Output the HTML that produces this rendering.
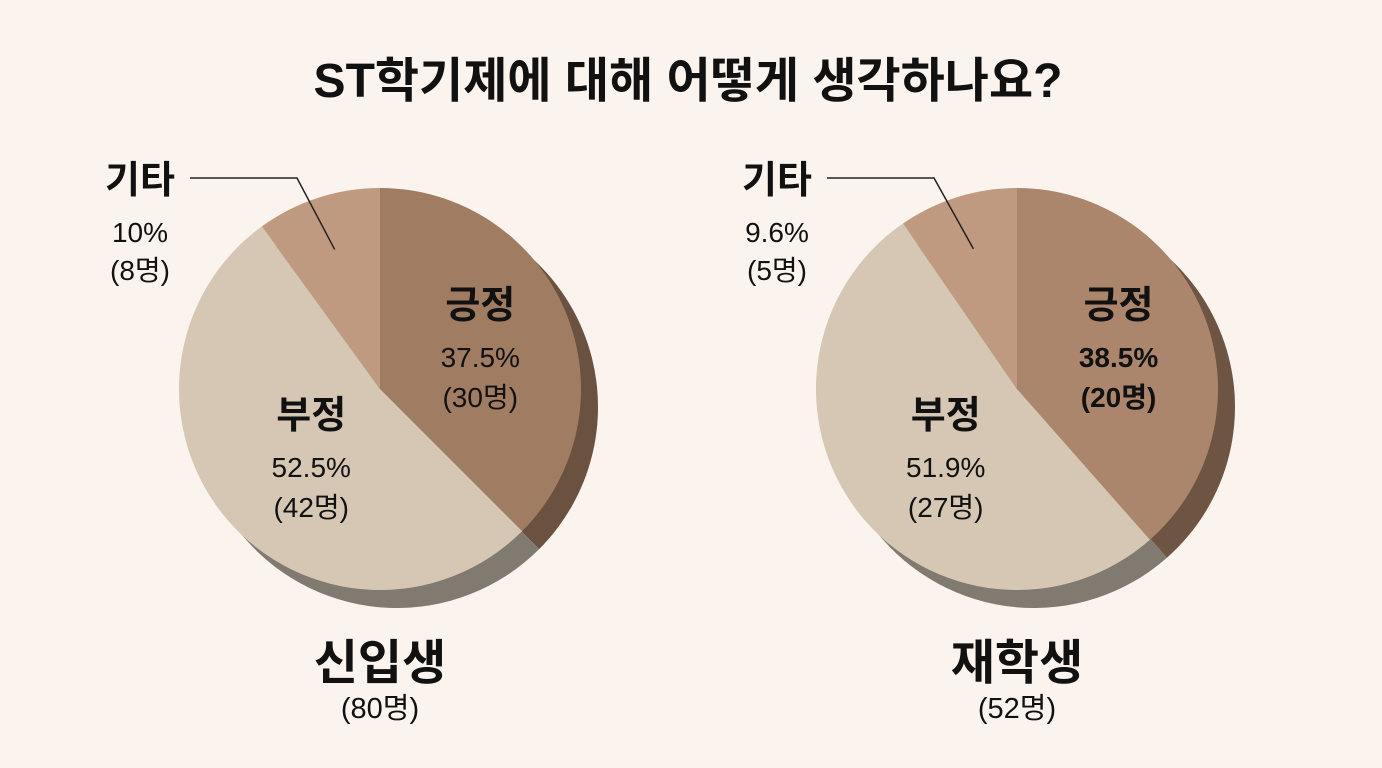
<!DOCTYPE html>
<html><head><meta charset="utf-8"><style>
html,body{margin:0;padding:0;background:#fbf3ee;}
svg{display:block;font-family:"Liberation Sans","Noto Sans CJK KR",sans-serif;}
</style></head><body>
<svg id="chart" width="1382" height="768" viewBox="0 0 1382 768">
<rect width="1382" height="768" fill="#fbf3ee"/>
<text x="688" y="97" text-anchor="middle" font-size="48" font-weight="bold" fill="#111">ST학기제에 대해 어떻게 생각하나요?</text>
<g id="pies"></g>
</svg>
<script>
const categories = ["긍정","부정","기타"];
const groupNames = ["신입생","재학생"];
const groupTotals = ["(80명)","(52명)"];
const freshmanPct = [37.5, 52.5, 10];
const freshmanCount = ["(30명)","(42명)","(8명)"];
const seniorPct = [38.5, 51.9, 9.6];
const seniorCount = ["(20명)","(27명)","(5명)"];

const NS="http://www.w3.org/2000/svg";
const g=document.getElementById('pies');
function el(tag,attrs,parent){const e=document.createElementNS(NS,tag);for(const k in attrs)e.setAttribute(k,attrs[k]);(parent||g).appendChild(e);return e;}
function angleOf(p){return p/100*2*Math.PI;}
function pt(cx,cy,r,a){return [cx+r*Math.sin(a),cy-r*Math.cos(a)];}
function arcPath(cx,cy,r,a0,a1){const p0=pt(cx,cy,r,a0),p1=pt(cx,cy,r,a1);const large=(a1-a0)>Math.PI?1:0;return `M${cx},${cy}L${p0[0]},${p0[1]}A${r},${r} 0 ${large} 1 ${p1[0]},${p1[1]}Z`;}
function txt(x,y,s,size,weight,name){const t=el('text',{x:x,y:y,'text-anchor':'middle','font-size':size,'font-weight':weight,fill:'#111'});t.textContent=s;return t;}

function drawPie(cx,cy,r,pcts,counts,colors,shadowColors,gi){
  const R=r;
  let a=0;
  pcts.forEach((p,i)=>{const a1=a+angleOf(p);
    const s=el('path',{d:arcPath(cx+17,cy+18,R,a,a1),fill:shadowColors[i]});
    
    
    a=a1;});
  a=0;
  pcts.forEach((p,i)=>{const a1=a+angleOf(p);
    const s=el('path',{d:arcPath(cx,cy,R,a,a1),fill:colors[i]});
    
    
    a=a1;});
  let a0=0;const mids=[];
  pcts.forEach(p=>{const a1=a0+angleOf(p);mids.push((a0+a1)/2);a0=a1;});
  let m=pt(cx,cy,R*0.54,mids[0]);
  txt(m[0],318,categories[0],38,'bold','label-positive-'+gi);
  txt(m[0],367,pcts[0]+'%',28,gi===1?'bold':'normal','value-positive-'+gi);
  txt(m[0],407,counts[0],28,gi===1?'bold':'normal','count-positive-'+gi);
  m=pt(cx,cy,R*0.45,mids[1]);
  txt(m[0],428,categories[1],38,'bold','label-negative-'+gi);
  txt(m[0],477,pcts[1]+'%',28,'normal','value-negative-'+gi);
  txt(m[0],517,counts[1],28,'normal','count-negative-'+gi);
  const lx=cx-240;
  txt(lx,193,categories[2],38,'bold','label-other-'+gi);
  txt(lx,242,pcts[2]+'%',28,'normal','value-other-'+gi);
  txt(lx,280,counts[2],28,'normal','count-other-'+gi);
  const e=pt(cx,cy,R*0.73,mids[2]);
  const line=el('polyline',{points:`${cx-190},178 ${cx-83},178 ${e[0]},${e[1]}`,fill:'none',stroke:'#222','stroke-width':1.5});
  
  
  txt(cx,679,groupNames[gi],48,'bold','group-name-'+gi);
  txt(cx,718,groupTotals[gi],29,'normal','group-total-'+gi);
}
drawPie(380,389,201,freshmanPct,freshmanCount,["#a07c62","#d5c7b4","#c09a80"],["#6a5140","#807a70","#807a70"],0);
drawPie(1017,389,201,seniorPct,seniorCount,["#ac866c","#d5c7b4","#c09a80"],["#6e5543","#807a70","#807a70"],1);
</script>
</body></html>
